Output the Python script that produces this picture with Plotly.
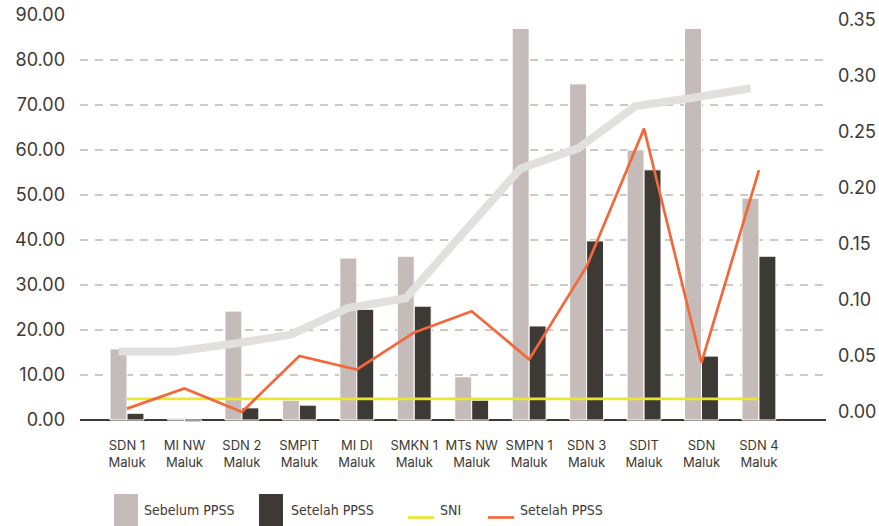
import plotly.graph_objects as go

# ---------------- data ----------------
categories = ["SDN 1<br>Maluk", "MI NW<br>Maluk", "SDN 2<br>Maluk", "SMPIT<br>Maluk",
              "MI DI<br>Maluk", "SMKN 1<br>Maluk", "MTs NW<br>Maluk", "SMPN 1<br>Maluk",
              "SDN 3<br>Maluk", "SDIT<br>Maluk", "SDN<br>Maluk", "SDN 4<br>Maluk"]
sebelum_ppss = [15.8, 0.4, 24.2, 4.4, 36.0, 36.4, 9.6, 87.0, 74.7, 60.0, 87.0, 49.3]
setelah_ppss = [1.5, -0.4, 2.7, 3.3, 24.6, 25.3, 4.4, 20.9, 39.8, 55.6, 14.2, 36.4]
sni = [4.7, 4.7, 4.7, 4.7, 4.7, 4.7, 4.7, 4.7, 4.7, 4.7, 4.7, 4.7]
setelah_line = [0.003, 0.021, 0.0, 0.050, 0.038, 0.071, 0.090, 0.047, 0.130, 0.253, 0.044, 0.216]
trend_line = [0.054, 0.054, 0.061, 0.069, 0.093, 0.1015, 0.160, 0.2175, 0.2354, 0.2732, 0.2806, 0.289]
left_ticks = [0, 10, 20, 30, 40, 50, 60, 70, 80, 90]
right_ticks = [0, 0.05, 0.10, 0.15, 0.20, 0.25, 0.30, 0.35]

# ---------------- style ----------------
C_LIGHT = "#c5bcb9"
C_DARK = "#3d3935"
C_TREND = "#e1e0de"
C_ORANGE = "#f2683a"
C_YELLOW = "#ebe630"
C_GRID = "#cdcac4"
TXT = "#3d3935"
FONT = "Inter, Roboto, sans-serif"
LEG_FONT = "DejaVu Sans Condensed, sans-serif"

W, H = 879, 526
ML, MR, MT, MB = 80, 53, 15, 96
BAR_W = 0.295

idx = list(range(len(categories)))
trend_x = [i - BAR_W / 2 for i in idx]

fig = go.Figure()
fig.add_trace(go.Bar(x=idx, y=sebelum_ppss, name="Sebelum PPSS", marker_color=C_LIGHT,
                     marker_line=dict(color="white", width=1), showlegend=False))
fig.add_trace(go.Bar(x=idx, y=setelah_ppss, name="Setelah PPSS", marker_color=C_DARK,
                     marker_line=dict(color="white", width=1), showlegend=False))
fig.add_trace(go.Scatter(x=trend_x, y=trend_line, mode="lines", yaxis="y2",
                         line=dict(color=C_TREND, width=8), showlegend=False))
fig.add_trace(go.Scatter(x=idx, y=sni, mode="lines", name="SNI",
                         line=dict(color=C_YELLOW, width=2.7), showlegend=False))
fig.add_trace(go.Scatter(x=idx, y=setelah_line, mode="lines", yaxis="y2", name="Setelah PPSS",
                         line=dict(color=C_ORANGE, width=2.7), showlegend=False))

plot_w = W - ML - MR
plot_h = H - MT - MB
plot_bottom = H - MB


def px_to_paper(px, py):
    # pixel -> paper coordinates
    return (px - ML) / plot_w, (plot_bottom - py) / plot_h


shapes = []
annotations = []
legend_items = [
    ("box", C_LIGHT, 114, 138, "Sebelum PPSS", 142),
    ("box", C_DARK, 259, 283, "Setelah PPSS", 289),
    ("line", C_YELLOW, 408, 434, "SNI", 438),
    ("line", C_ORANGE, 488, 514, "Setelah PPSS", 518),
]
for kind, col, x0, x1, label, tx in legend_items:
    if kind == "box":
        a0, b0 = px_to_paper(x0, 494)
        a1, b1 = px_to_paper(x1, 527)
        shapes.append(dict(type="rect", xref="paper", yref="paper", x0=a0, x1=a1, y0=b1, y1=b0,
                           fillcolor=col, line=dict(width=0), layer="above"))
    else:
        a0, b0 = px_to_paper(x0, 517.5)
        a1, _ = px_to_paper(x1, 517.5)
        shapes.append(dict(type="line", xref="paper", yref="paper", x0=a0, x1=a1, y0=b0, y1=b0,
                           line=dict(color=col, width=2.7), layer="above"))
    ax, ay = px_to_paper(tx, 510)
    annotations.append(dict(text=label, xref="paper", yref="paper", x=ax, y=ay,
                            xanchor="left", yanchor="middle", showarrow=False,
                            font=dict(family=LEG_FONT, size=14, color=TXT)))

# axis ranges tuned so pixel positions match the reference
cat_px = 57.45
x_lo = -(127 - ML) / cat_px
x_hi = x_lo + plot_w / cat_px
left_px = 4.5
y_lo = 90 - plot_h / left_px
right_px = 1120
y2_lo = -(plot_bottom - 412) / right_px
y2_hi = y2_lo + plot_h / right_px

fig.update_layout(
    width=W, height=H,
    margin=dict(l=ML, r=MR, t=MT, b=MB, autoexpand=False),
    paper_bgcolor="white", plot_bgcolor="white",
    barmode="group", bargap=1 - 2 * BAR_W, bargroupgap=0,
    font=dict(family=FONT, color=TXT),
    shapes=shapes, annotations=annotations,
    xaxis=dict(range=[x_lo, x_hi], tickmode="array", tickvals=idx, ticktext=categories,
               showgrid=False, zeroline=False, showline=False, ticks="", automargin=False,
               tickfont=dict(size=13, color=TXT), ticklabelstandoff=6,
               ticklabeloverflow="allow"),
    yaxis=dict(range=[y_lo, 90], tickmode="array", tickvals=left_ticks,
               ticktext=[f"{v:.2f}" for v in left_ticks], automargin=False,
               showgrid=True, gridcolor=C_GRID, gridwidth=1.6, griddash="8px,7px",
               zeroline=True, zerolinecolor=C_DARK, zerolinewidth=2,
               showline=False, ticks="", tickfont=dict(size=18, color=TXT),
               ticklabelstandoff=14, ticklabeloverflow="allow"),
    yaxis2=dict(range=[y2_lo, y2_hi], overlaying="y", side="right", tickmode="array",
                tickvals=right_ticks, ticktext=[f"{v:.2f}" for v in right_ticks],
                showgrid=False, zeroline=False, showline=False, ticks="", automargin=False,
                tickfont=dict(size=18, color=TXT), ticklabelstandoff=11,
                ticklabeloverflow="allow"),
)

fig.write_html("out.html", config={"displayModeBar": False},
               post_script="document.body.style.margin='0px';document.body.style.overflow='hidden';")
